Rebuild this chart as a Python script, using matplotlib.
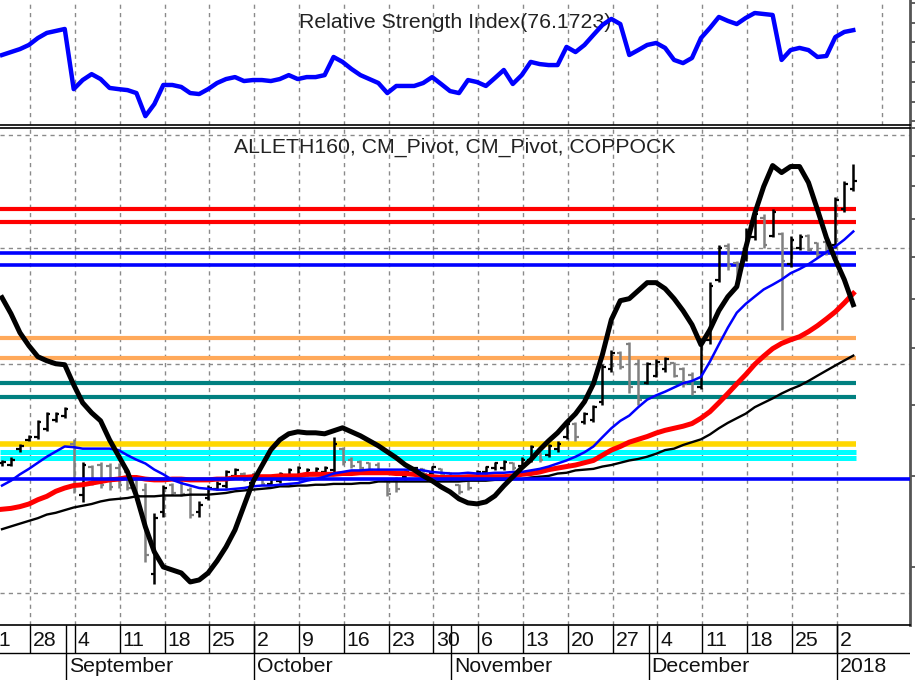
import numpy as np
import pandas as pd
import matplotlib
matplotlib.use("Agg")
import matplotlib.pyplot as plt

plt.rcParams['font.family'] = ['Liberation Sans', 'DejaVu Sans']

# ---------------- data ----------------
dates = pd.bdate_range('2017-08-23', '2018-01-03')   # 96 trading days

opens = [41.6, 41.4, 43.5, 44.8, 45.2, 46.4, 47.8, 48.4,
         44.2, 37.7, 41.2, 41.4, 41.3, 41.0, 40.5, 39.5, 38.3, 29.3,
         35.7, 38.9, 39.3, 38.3, 35.7, 37.3, 38.4, 38.8, 40.0, 40.3,
         39.1, 39.6, 39.0, 39.4, 39.8, 40.0, 40.3, 40.4, 40.5, 40.8,
         43.5, 42.1, 41.8, 41.6, 41.4, 39.3, 39.5, 39.8, 40.4, 40.9,
         40.4, 40.9, 40.4, 38.9, 39.3, 39.9, 40.5, 41.0, 41.0, 41.7,
         41.3, 42.1, 43.1, 42.7, 43.5, 45.2, 47.1, 47.4, 47.8, 50.6,
         56.0, 58.9, 60.6, 56.9, 53.7, 54.9, 56.0, 57.1, 56.0, 55.1,
         52.9, 61.5, 74.4, 82.8, 78.3, 79.3, 85.0, 90.5, 85.5, 85.8,
         78.1, 82.3, 85.3, 83.4, 83.9, 83.1, 92.9, 98.9]
highs = [42.1, 42.4, 44.2, 45.5, 47.8, 48.9, 49.0, 49.7,
         44.9, 41.8, 41.4, 41.8, 41.7, 41.7, 40.8, 39.8, 39.1, 35.6,
         38.9, 39.1, 39.5, 38.6, 36.9, 38.9, 39.3, 40.8, 41.0, 40.5,
         40.4, 39.8, 39.9, 40.5, 41.0, 41.3, 41.0, 41.2, 41.3, 45.2,
         43.8, 42.4, 42.1, 41.8, 41.8, 39.5, 39.8, 40.8, 41.2, 41.0,
         41.3, 41.0, 40.5, 39.0, 39.5, 40.8, 41.3, 41.8, 42.1, 41.8,
         42.4, 44.1, 43.2, 44.2, 44.6, 47.5, 47.4, 49.0, 50.1, 56.9,
         59.6, 59.3, 61.1, 57.8, 57.4, 57.8, 58.2, 57.4, 56.4, 55.6,
         61.9, 73.9, 83.1, 83.6, 78.8, 87.7, 92.2, 91.4, 92.9, 86.6,
         85.3, 85.8, 85.8, 83.9, 84.4, 96.7, 101.5, 107.1]
lows = [41.3, 41.3, 43.2, 44.6, 44.9, 46.1, 47.5, 48.1,
        37.9, 36.8, 38.9, 38.5, 38.3, 38.5, 38.3, 37.1, 30.5, 28.4,
        35.1, 37.7, 37.5, 35.0, 35.1, 37.1, 38.3, 38.5, 39.8, 39.3,
        38.9, 38.9, 38.9, 39.1, 39.5, 39.8, 40.0, 40.1, 40.3, 40.3,
        41.4, 41.0, 40.8, 40.5, 40.3, 37.5, 38.0, 39.5, 40.3, 40.0,
        40.3, 40.0, 39.5, 37.8, 38.3, 39.8, 40.3, 40.8, 40.8, 40.8,
        41.0, 41.8, 41.8, 42.4, 43.2, 44.9, 44.6, 47.1, 47.5, 50.1,
        55.6, 56.0, 52.0, 50.1, 53.4, 54.6, 55.6, 54.6, 52.9, 51.7,
        52.6, 60.6, 73.9, 76.8, 74.4, 78.8, 84.4, 82.3, 85.0, 63.5,
        77.4, 81.8, 81.3, 79.8, 80.5, 82.3, 92.0, 98.3]
closes = [41.8, 42.1, 43.9, 45.2, 47.4, 48.6, 48.7, 49.4,
          38.9, 41.4, 39.3, 38.9, 38.6, 38.9, 38.5, 37.5, 31.2, 35.0,
          38.5, 37.9, 37.8, 35.4, 36.5, 38.5, 39.0, 40.5, 40.8, 39.5,
          40.1, 39.0, 39.6, 40.3, 40.8, 41.0, 40.8, 40.9, 41.0, 44.2,
          41.8, 41.3, 41.0, 40.8, 40.5, 37.8, 38.4, 40.5, 41.0, 40.3,
          41.2, 40.1, 39.6, 38.0, 38.5, 40.5, 41.2, 41.7, 41.8, 41.0,
          42.1, 43.8, 42.1, 43.9, 44.3, 47.1, 45.2, 48.7, 49.7, 56.4,
          58.9, 56.4, 52.9, 50.9, 56.9, 57.4, 57.8, 54.9, 53.4, 52.2,
          61.1, 73.0, 82.3, 77.6, 74.9, 86.6, 91.4, 83.1, 92.0, 78.8,
          84.4, 85.0, 81.8, 80.5, 81.3, 95.8, 100.5, 101.5]

ma_blue = [38.8, 39.4, 40.2, 40.9, 41.7, 42.5, 43.2, 43.9,
           43.8, 43.6, 43.6, 43.6, 43.6, 43.4, 42.7, 42.1, 41.6, 40.8,
           40.2, 39.5, 39.1, 38.8, 38.5, 38.4, 38.3, 38.3, 38.4, 38.5,
           38.7, 38.8, 38.8, 38.9, 39.0, 39.1, 39.4, 39.6, 39.9, 40.3,
           40.5, 40.7, 40.7, 40.8, 40.8, 40.8, 40.8, 40.8, 40.8, 40.7,
           40.5, 40.4, 40.3, 40.3, 40.4, 40.3, 40.3, 40.4, 40.4, 40.5,
           40.5, 40.7, 40.9, 41.2, 41.6, 42.0, 42.5, 43.1, 43.9, 45.2,
           46.5, 47.6, 48.4, 49.7, 50.9, 51.6, 52.2, 52.9, 53.6, 54.0,
           54.7, 57.4, 60.6, 63.9, 67.0, 68.9, 70.5, 72.1, 73.2, 74.4,
           75.9, 76.9, 78.1, 79.6, 81.1, 82.6, 84.4, 86.6]
ma_red = [36.0, 36.1, 36.3, 36.6, 37.1, 37.5, 38.1, 38.5,
          38.8, 38.9, 39.1, 39.3, 39.5, 39.6, 39.8, 39.8, 39.6, 39.5,
          39.5, 39.6, 39.6, 39.5, 39.5, 39.5, 39.6, 39.6, 39.8, 39.8,
          39.9, 39.9, 39.9, 40.0, 40.0, 40.0, 40.2, 40.2, 40.2, 40.2,
          40.3, 40.3, 40.4, 40.4, 40.4, 40.4, 40.3, 40.3, 40.2, 40.0,
          39.9, 39.8, 39.8, 39.8, 39.9, 39.9, 39.9, 39.9, 39.9, 40.0,
          40.2, 40.3, 40.5, 40.8, 41.0, 41.2, 41.4, 41.7, 42.0, 42.7,
          43.4, 43.9, 44.5, 44.9, 45.3, 45.8, 46.2, 46.5, 46.8, 47.2,
          48.0, 49.0, 50.4, 51.9, 53.5, 55.1, 56.9, 58.4, 59.8, 60.8,
          61.5, 62.1, 63.1, 64.3, 65.7, 67.2, 69.1, 71.2]
ma_black = [33.8, 34.1, 34.4, 34.7, 35.0, 35.4, 35.6, 35.9,
            36.2, 36.4, 36.6, 36.9, 37.1, 37.2, 37.3, 37.5, 37.5, 37.5,
            37.6, 37.6, 37.6, 37.7, 37.7, 37.7, 37.8, 37.9, 38.1, 38.2,
            38.3, 38.4, 38.5, 38.7, 38.7, 38.8, 38.8, 38.9, 38.9, 39.0,
            39.0, 39.0, 39.1, 39.1, 39.3, 39.3, 39.3, 39.3, 39.3, 39.3,
            39.3, 39.3, 39.3, 39.3, 39.4, 39.4, 39.4, 39.5, 39.5, 39.6,
            39.6, 39.8, 39.9, 40.0, 40.3, 40.4, 40.7, 40.8, 40.9, 41.2,
            41.4, 41.7, 42.0, 42.2, 42.5, 42.9, 43.4, 43.6, 44.1, 44.5,
            44.9, 45.6, 46.5, 47.3, 48.0, 48.7, 49.7, 50.4, 51.1, 51.9,
            52.6, 53.2, 54.0, 54.9, 55.8, 56.7, 57.6, 58.5]
coppock = [18.1, 16.5, 14.6, 13.3, 12.2, 11.8, 11.5, 11.4,
           9.4, 7.6, 6.6, 5.8, 3.9, 2.3, 0.7, -1.7, -4.8, -7.3,
           -8.8, -9.1, -9.4, -10.3, -10.1, -9.4, -8.2, -6.8, -5.1, -2.7,
           -0.3, 1.3, 2.9, 3.9, 4.5, 4.7, 4.6, 4.6, 4.5, 4.8,
           5.1, 4.7, 4.3, 3.8, 3.3, 2.7, 2.1, 1.4, 0.9, 0.3,
           -0.2, -0.8, -1.3, -2.0, -2.4, -2.5, -2.3, -1.7, -0.7, 0.2,
           1.1, 1.9, 2.9, 3.8, 4.6, 5.6, 6.5, 7.7, 9.5, 12.4,
           15.9, 17.8, 18.0, 18.8, 19.6, 19.6, 19.0, 18.0, 16.8, 15.4,
           13.4, 14.9, 16.8, 18.2, 19.2, 23.1, 26.5, 29.2, 31.3, 30.6,
           31.2, 31.2, 29.6, 26.9, 24.1, 21.9, 19.9, 17.4]
rsi = [63.6, 65.1, 66.6, 68.7, 72.2, 74.8, 75.8, 76.8,
       46.3, 50.9, 53.9, 51.4, 46.9, 46.3, 45.8, 44.3, 32.6, 38.7,
       48.4, 48.4, 47.4, 44.3, 43.8, 46.3, 49.4, 51.4, 52.4, 50.4,
       50.9, 50.9, 50.4, 51.4, 53.4, 51.4, 52.4, 52.4, 53.4, 62.6,
       60.1, 56.5, 53.4, 51.4, 49.4, 44.3, 47.9, 47.9, 47.9, 49.4,
       52.4, 48.9, 45.3, 44.3, 50.9, 49.9, 47.9, 51.9, 56.0, 48.9,
       53.4, 60.1, 59.0, 58.5, 58.5, 67.7, 65.1, 68.7, 73.8, 78.8,
       81.9, 79.3, 63.6, 66.1, 68.7, 69.7, 67.2, 61.1, 59.5, 62.1,
       72.2, 77.3, 82.9, 80.9, 79.3, 82.4, 84.9, 84.4, 83.9, 61.1,
       66.1, 67.2, 66.1, 62.6, 63.1, 72.7, 75.3, 76.2]

pivot_red = [93.1, 89.1]
pivot_blue = [81.0, 78.0]
pivot_orange = [61.8, 58.0]
pivot_teal = [53.7, 51.3]
pivot_yellow = [44.2]
pivot_cyan = [43.2, 42.3]

week_starts = pd.date_range('2017-08-21', '2018-01-08', freq='W-MON')
week_labels = ['21', '28', '4', '11', '18', '25', '2', '9', '16', '23', '30',
               '6', '13', '20', '27', '4', '11', '18', '25', '2', '']
month_starts = ['2017-09-01', '2017-10-02', '2017-11-01', '2017-12-01', '2018-01-01']
month_labels = ['September', 'October', 'November', 'December', '2018']

rsi_ticks = [30, 40, 50, 60, 70, 80, 90]
rsi_grid = [30, 50, 70, 80, 90]
price_ticks = [30, 40, 50, 60, 70, 80, 90, 100, 110, 120]
price_grid = [27.6, 57.0, 82.3, 117.3]

# ---------------- layout ----------------
W, H = 915, 680
fig = plt.figure(figsize=(W / 100, H / 100), dpi=100)


def rect(x0, y0, x1, y1):
    return [x0 / W, 1 - y1 / H, (x1 - x0) / W, (y1 - y0) / H]


ax_rsi = fig.add_axes(rect(0, 0, 910, 125))
ax = fig.add_axes(rect(0, 127.5, 910, 625))
axd = fig.add_axes(rect(0, 625, 910, 680))

x = np.arange(len(dates))
start = dates[0].strftime('%Y-%m-%d')
week_pos = np.array([np.busday_count(start, d.strftime('%Y-%m-%d')) for d in week_starts]) + 0.15
month_pos = np.array([np.busday_count(start, d) for d in month_starts]) + 0.15
xl = (-0.225, 101.33)

grid_kw = dict(color='#8a8a8a', lw=1.0, ls=(0, (3, 3)))
axis_col = '#555555'

# ---------------- RSI panel ----------------
ax_rsi.plot(x, rsi, color='#0000ff', lw=3.2, solid_joinstyle='round', zorder=3)
ax_rsi.set_xlim(*xl)
ax_rsi.set_ylim(28.1, 91.5)
ax_rsi.yaxis.tick_right()
ax_rsi.set_yticks(rsi_ticks)
ax_rsi.set_yticks(rsi_grid, minor=True)
ax_rsi.tick_params(axis='y', which='major', direction='out', length=4, width=1.3,
                   color=axis_col, labelright=False, labelleft=False)
ax_rsi.tick_params(axis='y', which='minor', length=0, labelright=False, labelleft=False)
ax_rsi.set_xticks(week_pos[1:])
ax_rsi.tick_params(axis='x', length=0, labelbottom=False)
ax_rsi.grid(axis='y', which='minor', **grid_kw)
ax_rsi.grid(axis='x', which='major', **grid_kw)
ax_rsi.set_axisbelow(True)
for s in ('left', 'top'):
    ax_rsi.spines[s].set_visible(False)
ax_rsi.spines['bottom'].set_color('black')
ax_rsi.spines['bottom'].set_linewidth(1.2)
ax_rsi.spines['right'].set_color(axis_col)
ax_rsi.spines['right'].set_linewidth(2)
ax_rsi.text(0.5, (125 - 22) / 125, 'Relative Strength Index(76.1723)', transform=ax_rsi.transAxes,
            ha='center', va='center', fontsize=15.3, color='#222222', zorder=2)

# ---------------- price panel ----------------
ax.set_yscale('log')
ax.set_xlim(*xl)
ax.set_ylim(24.97, 120.3)

x_end = x[-1] + 0.25
ax.hlines(pivot_red, xl[0], x_end, colors='#ff0000', lw=3.0, zorder=2)
ax.hlines(pivot_blue, xl[0], x_end, colors='#0000ff', lw=2.6, zorder=2)
ax.hlines(pivot_orange, xl[0], x_end, colors='#ffa95a', lw=3.0, zorder=2)
ax.hlines(pivot_teal, xl[0], x_end, colors='#008080', lw=3.0, zorder=2)
ax.hlines(pivot_yellow, xl[0], x_end, colors='#ffd700', lw=4.0, zorder=2)
ax.hlines(pivot_cyan, xl[0], x_end, colors='#00ffff', lw=3.6, zorder=2)

o = np.array(opens); c = np.array(closes)
cols = np.where(c >= o, 'black', '#808080')
ax.vlines(x, lows, highs, colors=cols, lw=1.8, zorder=3)
ax.hlines(opens, x - 0.4, x, colors=cols, lw=1.6, zorder=3)
ax.hlines(closes, x, x + 0.4, colors=cols, lw=1.6, zorder=3)

ax.plot(x, ma_black, color='black', lw=1.7, zorder=4)
ax.plot(x, ma_red, color='#ff0000', lw=3.6, zorder=4)
ax.plot(x, ma_blue, color='#0000ff', lw=1.8, zorder=5)

axc = ax.twinx()
axc.set_ylim(-14.6, 35.1)
axc.axhline(0, color='#0000ff', lw=2.6, zorder=1)
axc.plot(x, coppock, color='black', lw=3.6, solid_joinstyle='round', zorder=3)
axc.set_yticks([])
axc.tick_params(right=False, labelright=False, left=False)
for s in axc.spines.values():
    s.set_visible(False)

ax.yaxis.tick_right()
ax.set_yticks(price_ticks)
ax.set_yticks(price_grid, minor=True)
ax.tick_params(axis='y', which='major', direction='out', length=4, width=1.3,
               color=axis_col, labelright=False, labelleft=False)
ax.tick_params(axis='y', which='minor', length=0, labelright=False, labelleft=False)
ax.set_xticks(week_pos[1:-1])
ax.tick_params(axis='x', length=0, labelbottom=False)
ax.grid(axis='y', which='minor', **grid_kw)
ax.grid(axis='x', which='major', **grid_kw)
ax.set_axisbelow(True)
ax.spines['left'].set_visible(False)
for s in ('top', 'bottom'):
    ax.spines[s].set_color('black')
    ax.spines[s].set_linewidth(1.2)
ax.spines['right'].set_color(axis_col)
ax.spines['right'].set_linewidth(2)
ax.text(0.5, (625 - 147) / 497.5, 'ALLETH160, CM_Pivot, CM_Pivot, COPPOCK', transform=ax.transAxes,
        ha='center', va='center', fontsize=15.3, color='#222222', zorder=6)

# ---------------- date axis ----------------
axd.set_xlim(*xl)
axd.set_ylim(0, 1)
axd.axis('off')
row_y = (680 - 653) / 55
axd.axhline(row_y, color='black', lw=1.0)
for wp, lbl in zip(week_pos, week_labels):
    if not lbl:
        continue
    axd.vlines(wp, row_y, 1, colors='black', lw=1.0)
    axd.annotate(lbl, (wp, (680 - 640) / 55), xytext=(2, 0), textcoords='offset points',
                 ha='left', va='center', fontsize=15.3, color='#111111', annotation_clip=False)
for mp, lbl in zip(month_pos, month_labels):
    axd.vlines(mp, 0, 1, colors='black', lw=1.0)
    axd.annotate(lbl, (mp, (680 - 667) / 55), xytext=(2, 0), textcoords='offset points',
                 ha='left', va='center', fontsize=15.3, color='#111111', annotation_clip=False)

fig.savefig('out.png', dpi=100)
